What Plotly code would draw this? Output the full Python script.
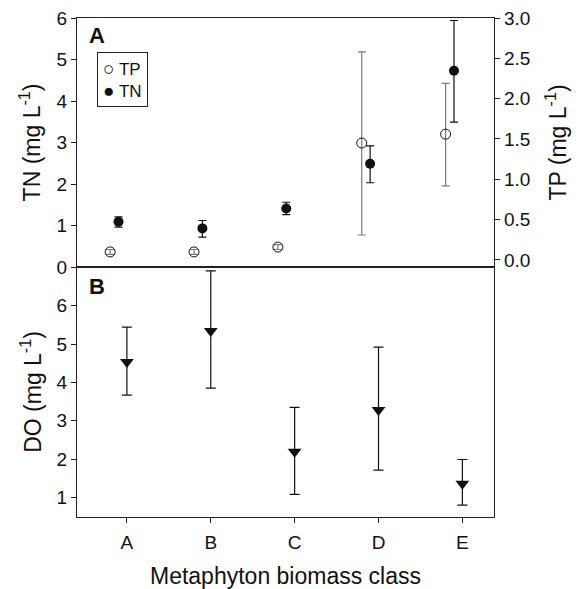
import plotly.graph_objects as go

categories = ["A", "B", "C", "D", "E"]
tp_mean = [0.10, 0.10, 0.16, 1.45, 1.56]
tp_hi = [0.13, 0.13, 0.19, 2.58, 2.19]
tp_lo = [0.07, 0.07, 0.13, 0.31, 0.92]
tn_mean = [1.09, 0.93, 1.41, 2.49, 4.73]
tn_hi = [1.21, 1.12, 1.56, 2.92, 5.94]
tn_lo = [0.96, 0.72, 1.26, 2.03, 3.49]
do_mean = [4.53, 5.34, 2.19, 3.28, 1.36]
do_hi = [5.44, 6.91, 3.35, 4.92, 1.99]
do_lo = [3.67, 3.85, 1.08, 1.71, 0.80]

xpos = [1, 2, 3, 4, 5]
FONT = "Liberation Sans, Arial, sans-serif"
LC = "#222222"

fig = go.Figure()

fig.add_trace(go.Scatter(
    x=[v - 0.2 for v in xpos], y=tp_mean, name="TP", mode="markers",
    xaxis="x2", yaxis="y3", showlegend=False,
    marker=dict(symbol="circle-open", size=10, color="#111111", line=dict(width=1)),
    error_y=dict(type="data", symmetric=False,
                 array=[h - m for h, m in zip(tp_hi, tp_mean)],
                 arrayminus=[m - l for m, l in zip(tp_mean, tp_lo)],
                 color="#7a7a7a", thickness=1.2, width=4),
))
fig.add_trace(go.Scatter(
    x=[v - 0.1 for v in xpos], y=tn_mean, name="TN", mode="markers",
    xaxis="x2", yaxis="y2", showlegend=False,
    marker=dict(symbol="circle", size=10, color="#111111"),
    error_y=dict(type="data", symmetric=False,
                 array=[h - m for h, m in zip(tn_hi, tn_mean)],
                 arrayminus=[m - l for m, l in zip(tn_mean, tn_lo)],
                 color="#111111", thickness=1.2, width=4),
))
fig.add_trace(go.Scatter(
    x=xpos, y=do_mean, name="DO", mode="markers", showlegend=False,
    xaxis="x", yaxis="y",
    marker=dict(symbol="triangle-down", size=12, color="#111111"),
    error_y=dict(type="data", symmetric=False,
                 array=[h - m for h, m in zip(do_hi, do_mean)],
                 arrayminus=[m - l for m, l in zip(do_mean, do_lo)],
                 color="#111111", thickness=1.2, width=5),
))

xr = [0.405, 5.377]
axis_common = dict(showgrid=False, zeroline=False, showline=True, linecolor=LC,
                   linewidth=1.2, ticks="outside", ticklen=5, tickcolor=LC,
                   automargin=False, ticklabeloverflow="allow",
                   tickfont=dict(family=FONT, size=19, color="#111111"))
TITLE_FONT = dict(family=FONT, size=23, color="#111111")

# the page body adds an 8px offset, so the figure is 8px smaller than the window
fig.update_layout(
    width=578, height=581,
    margin=dict(l=69, r=92, t=10, b=72),
    paper_bgcolor="white", plot_bgcolor="white",
    font=dict(family=FONT, color="#111111"),
    showlegend=False,
    xaxis=dict(axis_common, range=xr, domain=[0, 1], anchor="y",
               tickvals=xpos, ticktext=categories, ticklabelstandoff=3,
               title=dict(text="Metaphyton biomass class", font=TITLE_FONT, standoff=17)),
    yaxis=dict(axis_common, range=[0.49, 7.01], domain=[0, 0.501], anchor="x",
               mirror=True, tickvals=[1, 2, 3, 4, 5, 6],
               title=dict(text="DO (mg L<sup>-1</sup>)", font=TITLE_FONT, standoff=8)),
    xaxis2=dict(axis_common, range=xr, domain=[0, 1], anchor="y2",
                showticklabels=False, ticks="", mirror=True),
    yaxis2=dict(axis_common, range=[0, 6], domain=[0.501, 1], anchor="x2",
                tickvals=[0, 1, 2, 3, 4, 5, 6],
                title=dict(text="TN (mg L<sup>-1</sup>)", font=TITLE_FONT, standoff=9)),
    yaxis3=dict(axis_common, range=[-0.087, 3.0], overlaying="y2", side="right",
                anchor="x2", tickvals=[0, 0.5, 1, 1.5, 2, 2.5, 3],
                tickformat=".1f",
                title=dict(text="TP (mg L<sup>-1</sup>)", font=TITLE_FONT, standoff=20)),
    shapes=[dict(type="line", xref="paper", yref="paper", x0=0, x1=1,
                 y0=0.501, y1=0.501, line=dict(color=LC, width=2.2))],
    annotations=[
        dict(text="<b>A</b>", x=0.048, y=0.964, xref="paper", yref="paper",
             xanchor="center", yanchor="middle", showarrow=False,
             font=dict(family=FONT, size=22, color="#111111")),
        dict(text="<b>B</b>", x=0.048, y=0.461, xref="paper", yref="paper",
             xanchor="center", yanchor="middle", showarrow=False,
             font=dict(family=FONT, size=22, color="#111111")),
        dict(text="<span style='font-size:19px'>○</span> TP<br>"
                  "<span style='font-size:19px'>●</span> TN",
             x=0.048, y=0.932, xref="paper", yref="paper",
             xanchor="left", yanchor="top", showarrow=False, align="left",
             bordercolor=LC, borderwidth=1, borderpad=5, bgcolor="white",
             font=dict(family=FONT, size=17, color="#111111")),
    ],
)

fig.write_html("out.html")
